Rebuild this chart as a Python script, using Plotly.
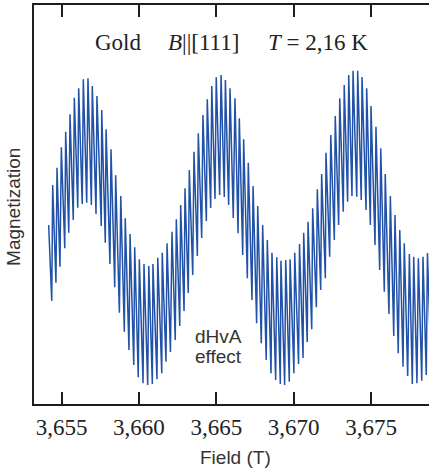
import plotly.graph_objects as go

# Vertices of the dHvA trace (field in T, magnetization in arbitrary units),
# read off the reference: start point, then alternating peak / trough.
field = [
    3.65417, 3.65437,
    3.65443, 3.65464,
    3.65471, 3.65490,
    3.65499, 3.65521,
    3.65527, 3.65547,
    3.65555, 3.65576,
    3.65583, 3.65605,
    3.65611, 3.65634,
    3.65641, 3.65663,
    3.65671, 3.65693,
    3.65699, 3.65723,
    3.65729, 3.65757,
    3.65760, 3.65783,
    3.65788, 3.65813,
    3.65820, 3.65844,
    3.65850, 3.65874,
    3.65883, 3.65906,
    3.65912, 3.65936,
    3.65943, 3.65967,
    3.65973, 3.65996,
    3.66003, 3.66027,
    3.66033, 3.66057,
    3.66064, 3.66087,
    3.66091, 3.66117,
    3.66122, 3.66148,
    3.66151, 3.66175,
    3.66182, 3.66204,
    3.66214, 3.66235,
    3.66242, 3.66264,
    3.66270, 3.66292,
    3.66298, 3.66319,
    3.66326, 3.66348,
    3.66356, 3.66378,
    3.66384, 3.66406,
    3.66414, 3.66436,
    3.66442, 3.66464,
    3.66471, 3.66492,
    3.66500, 3.66522,
    3.66531, 3.66552,
    3.66559, 3.66580,
    3.66589, 3.66610,
    3.66621, 3.66641,
    3.66649, 3.66671,
    3.66677, 3.66701,
    3.66707, 3.66731,
    3.66738, 3.66761,
    3.66768, 3.66791,
    3.66800, 3.66823,
    3.66830, 3.66854,
    3.66860, 3.66884,
    3.66891, 3.66914,
    3.66918, 3.66942,
    3.66949, 3.66972,
    3.66977, 3.67002,
    3.67007, 3.67032,
    3.67038, 3.67061,
    3.67065, 3.67088,
    3.67093, 3.67117,
    3.67123, 3.67147,
    3.67153, 3.67175,
    3.67181, 3.67205,
    3.67209, 3.67233,
    3.67240, 3.67263,
    3.67269, 3.67291,
    3.67298, 3.67321,
    3.67327, 3.67349,
    3.67356, 3.67377,
    3.67384, 3.67408,
    3.67414, 3.67437,
    3.67442, 3.67468,
    3.67472, 3.67496,
    3.67500, 3.67526,
    3.67532, 3.67556,
    3.67563, 3.67586,
    3.67592, 3.67616,
    3.67625, 3.67647,
    3.67655, 3.67676,
    3.67686, 3.67707,
    3.67715, 3.67737,
    3.67748, 3.67767,
    3.67776, 3.67797,
    3.67806, 3.67828,
    3.67836, 3.67857,
    3.67865, 3.67888,
]

magnetization = [
    0.05, -0.71,
    0.45, -0.527,
    0.623, -0.367,
    0.827, -0.183,
    0.983, -0.027,
    1.157, 0.10,
    1.323, 0.223,
    1.417, 0.26,
    1.507, 0.273,
    1.517, 0.25,
    1.44, 0.16,
    1.34, 0.04,
    1.20, -0.127,
    1.007, -0.34,
    0.807, -0.573,
    0.547, -0.827,
    0.34, -1.017,
    0.117, -1.20,
    -0.04, -1.35,
    -0.173, -1.473,
    -0.293, -1.533,
    -0.34, -1.55,
    -0.36, -1.54,
    -0.34, -1.493,
    -0.277, -1.433,
    -0.227, -1.317,
    -0.133, -1.22,
    -0.017, -1.10,
    0.107, -0.96,
    0.25, -0.81,
    0.417, -0.63,
    0.60, -0.45,
    0.783, -0.26,
    0.967, -0.08,
    1.15, 0.09,
    1.307, 0.22,
    1.44, 0.31,
    1.527, 0.35,
    1.55, 0.33,
    1.50, 0.25,
    1.417, 0.12,
    1.317, -0.033,
    1.117, -0.25,
    0.907, -0.483,
    0.673, -0.70,
    0.44, -0.933,
    0.24, -1.133,
    0.05, -1.30,
    -0.10, -1.433,
    -0.227, -1.50,
    -0.273, -1.54,
    -0.307, -1.55,
    -0.30, -1.517,
    -0.293, -1.433,
    -0.227, -1.34,
    -0.14, -1.28,
    -0.027, -1.12,
    0.083, -0.993,
    0.217, -0.773,
    0.407, -0.60,
    0.56, -0.483,
    0.773, -0.267,
    0.95, -0.10,
    1.14, 0.05,
    1.317, 0.183,
    1.45, 0.283,
    1.55, 0.34,
    1.593, 0.333,
    1.593, 0.30,
    1.53, 0.20,
    1.417, 0.05,
    1.24, -0.15,
    1.033, -0.40,
    0.817, -0.617,
    0.56, -0.84,
    0.34, -1.06,
    0.15, -1.233,
    0.00, -1.367,
    -0.133, -1.46,
    -0.24, -1.54,
    -0.267, -1.533,
    -0.283, -1.507,
    -0.267, -1.45,
    -0.23, -1.38,
]

tick_values = [3.655, 3.660, 3.665, 3.670, 3.675]
tick_labels = ["3,655", "3,660", "3,665", "3,670", "3,675"]

n = min(len(field), len(magnetization))

fig = go.Figure()
fig.add_trace(go.Scatter(
    x=field[:n], y=magnetization[:n], mode="lines",
    line=dict(color="#2152a8", width=1.5), hoverinfo="skip", showlegend=False,
))

axis_col = "#1e1e1e"
serif = "Liberation Serif, Times New Roman, serif"
sans = "Liberation Sans, Arial, sans-serif"

fig.update_layout(
    width=429, height=470,
    margin=dict(l=34, r=0, t=5, b=66),
    paper_bgcolor="white", plot_bgcolor="white",
    xaxis=dict(
        range=[3.653223, 3.678748],
        tickvals=tick_values, ticktext=tick_labels,
        ticks="inside", ticklen=12, tickwidth=2, tickcolor=axis_col,
        showline=True, linewidth=2, linecolor=axis_col, mirror="ticks",
        showgrid=False, zeroline=False,
        tickfont=dict(family=serif, size=23, color="#222"),
        ticklabelstandoff=1,
    ),
    yaxis=dict(
        range=[-1.74, 2.25],
        showticklabels=False, ticks="",
        showline=True, linewidth=2, linecolor=axis_col, mirror=False,
        showgrid=False, zeroline=False,
    ),
)

ann = [
    dict(text="Gold", x=0.2127, y=0.907, font=dict(family=serif, size=23, color="#222")),
    dict(text="<i>B</i>||[111]", x=0.429, y=0.907, font=dict(family=serif, size=23, color="#222")),
    dict(text="<i>T</i> = 2,16 K", x=0.719, y=0.907, font=dict(family=serif, size=23, color="#222")),
    dict(text="Field (T)", x=0.509, y=-0.133, font=dict(family=sans, size=19, color="#333")),
    dict(text="Magnetization", x=-0.0506, y=0.494, textangle=-90,
         font=dict(family=sans, size=19, color="#333")),
    dict(text="dHvA", x=0.4025, y=0.168, xanchor="left",
         font=dict(family=sans, size=19, color="#333")),
    dict(text="effect", x=0.4025, y=0.118, xanchor="left",
         font=dict(family=sans, size=19, color="#333")),
]
for a in ann:
    a.setdefault("xanchor", "center")
    a.update(xref="paper", yref="paper", yanchor="middle", showarrow=False)
    fig.add_annotation(**a)

fig.write_html("out.html")
